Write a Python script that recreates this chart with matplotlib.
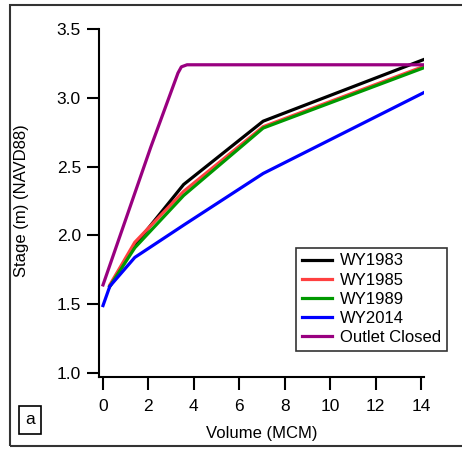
import numpy as np
import matplotlib.pyplot as plt
from matplotlib.patches import Rectangle

plt.rcParams['font.family'] = ['Liberation Sans', 'DejaVu Sans']

# stage-volume curves
vol_1983 = [0.3, 1.4, 3.55, 7.05, 14.15]
stage_1983 = [1.63, 1.93, 2.37, 2.83, 3.28]

vol_1985 = [0.3, 1.4, 3.55, 7.05, 14.15]
stage_1985 = [1.64, 1.95, 2.32, 2.79, 3.23]

vol_1989 = [0.3, 1.4, 3.55, 7.05, 14.15]
stage_1989 = [1.63, 1.91, 2.29, 2.78, 3.22]

vol_2014 = [0.0, 0.3, 1.4, 3.6, 7.05, 14.15]
stage_2014 = [1.49, 1.63, 1.84, 2.08, 2.45, 3.04]

vol_closed = [0.0, 2.1, 3.3, 3.45, 3.7, 14.15]
stage_closed = [1.64, 2.64, 3.18, 3.225, 3.24, 3.24]

fig = plt.figure(figsize=(4.62, 4.49), dpi=100)
ax = fig.add_axes([0.2143, 0.1604, 0.7034, 0.775])

lw = 2.3
ax.plot(vol_1983, stage_1983, color='black', lw=lw, label='WY1983')
ax.plot(vol_1985, stage_1985, color='#ff4040', lw=lw, label='WY1985')
ax.plot(vol_1989, stage_1989, color='#009900', lw=lw, label='WY1989')
ax.plot(vol_2014, stage_2014, color='blue', lw=lw, label='WY2014')
ax.plot(vol_closed, stage_closed, color='#990080', lw=lw, label='Outlet Closed')

ax.set_xlim(-0.176, 14.13)
ax.set_ylim(0.971, 3.5)
ax.set_xticks(np.arange(0, 15, 2))
ax.set_yticks([1.0, 1.5, 2.0, 2.5, 3.0, 3.5])
ax.set_yticklabels(['1.0', '1.5', '2.0', '2.5', '3.0', '3.5'])

for s in ['top', 'right']:
    ax.spines[s].set_visible(False)
for s in ['left', 'bottom']:
    ax.spines[s].set_linewidth(1.5)
ax.tick_params(direction='out', length=9, width=1.5, labelsize=12.5)
ax.tick_params(axis='y', pad=4)
ax.tick_params(axis='x', pad=7)

ax.set_xlabel('Volume (MCM)', fontsize=12)
ax.set_ylabel('Stage (m) (NAVD88)', fontsize=12)
ax.xaxis.set_label_coords(0.5, -0.14)
ax.yaxis.set_label_coords(-0.238, 0.506)
ax.yaxis.label.set_va('center')

leg = ax.legend(loc='lower left', bbox_to_anchor=(0.606, 0.075), fontsize=12,
                frameon=True, fancybox=False, edgecolor='black',
                handlelength=1.8, handletextpad=0.5, labelspacing=0.25,
                borderpad=0.35, borderaxespad=0)
leg.get_frame().set_linewidth(1.2)

# outer frame
fig.patches.append(Rectangle((10/462, 3/449), 1.0, 441/449, transform=fig.transFigure,
                             fill=False, edgecolor='#333333', lw=1.5))

fig.text(30/462, 1 - 420/449, 'a', fontsize=12.5, ha='center', va='center',
         bbox=dict(boxstyle='square,pad=0.35', fc='white', ec='black', lw=1.2))

fig.savefig('out.png', dpi=100)
